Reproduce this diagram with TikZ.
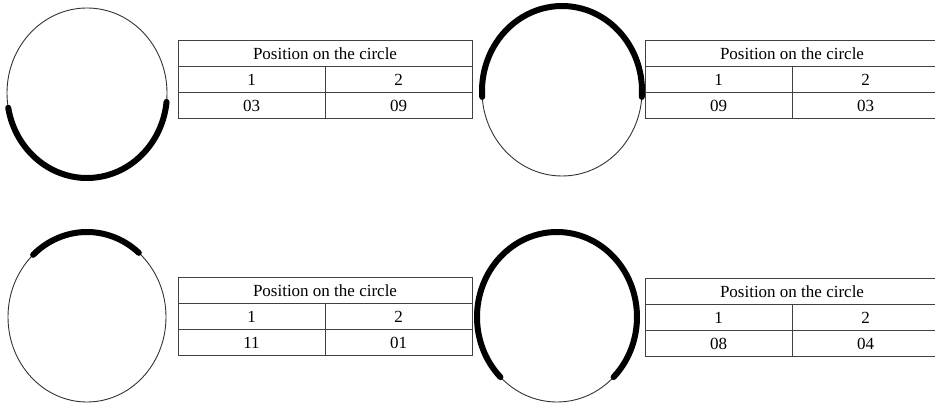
\documentclass[tikz,border=0pt]{standalone}
\usepackage{fontspec}
\setmainfont{Liberation Serif}
\usetikzlibrary{positioning}

\begin{document}
\begin{tikzpicture}[x=1pt,y=1pt,
  ring/.style={line width=0.9pt,color=black!80},
  band/.style={line width=6pt,line cap=round},
  grid/.style={line width=1pt,color=black!75},
  cell/.style={font=\fontsize{17}{19}\selectfont,inner sep=0pt}
]
\useasboundingbox (0,0) rectangle (935,404);
\clip (0,0) rectangle (935,404);

\foreach \cx/\cy/\rx/\a/\b/\tx/\ty/\p/\q/\n in {
  87/311/80/190/354/178/363/03/09/a,
  562/313/80/-4/184/645/363/09/03/b,
  87/87/79/49/133/178/126/11/01/c,
  557/87/80/-45/225/645/125/08/04/d}
{
  % circle and its marked arc
  \draw[ring] (\cx,\cy) ellipse [x radius=\rx, y radius=85];
  \draw[band] ({\cx+\rx*cos(\a)},{\cy+85*sin(\a)})
    arc [start angle=\a, end angle=\b, x radius=\rx, y radius=85];
  % table
  \draw[grid] (\tx,\ty) rectangle ++(294,-78);
  \draw[grid] (\tx,\ty-26) -- ++(294,0);
  \draw[grid] (\tx,\ty-52) -- ++(294,0);
  \draw[grid] (\tx+147,\ty-26) -- ++(0,-52);
  \node[cell] (hd\n) at (\tx+147,\ty-13) {Position on the circle};
  \node[cell] (one\n) at (\tx+73.5,\ty-39) {1};
  \node[cell] (two\n) at (\tx+220.5,\ty-39) {2};
  \node[cell] (p\n) at (\tx+73.5,\ty-65) {\p};
  \node[cell] (q\n) at (\tx+220.5,\ty-65) {\q};
}
\end{tikzpicture}
\end{document}
